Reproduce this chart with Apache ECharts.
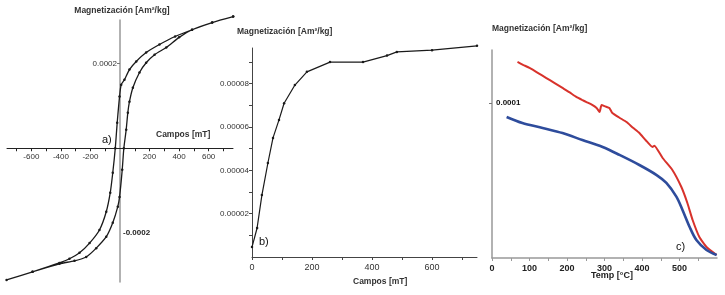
<!DOCTYPE html>
<html>
<head>
<meta charset="utf-8">
<script src="https://cdn.jsdelivr.net/npm/echarts@6/dist/echarts.min.js"></script>
<style>
  html, body { margin: 0; padding: 0; background: #fff; }
  #chart { width: 725px; height: 295px; }
</style>
</head>
<body>
<div id="chart"></div>
<script>
// a) hysteresis loop: descending branch then ascending branch
const loopField = [766, 624, 488, 373, 267, 177, 110, 64, 30, 8, -3, -19, -32, -49, -66, -93, -139, -206, -274, -342, -410, -592, -768,
                   -592, -410, -308, -229, -161, -93, -49, -15, -3, 15, 26, 42, 53, 64, 87, 132, 177, 234, 313, 400, 488, 624, 766];
const loopMag = [3.11e-4, 2.97e-4, 2.80e-4, 2.64e-4, 2.45e-4, 2.26e-4, 2.05e-4, 1.86e-4, 1.62e-4, 1.50e-4, 1.22e-4, 0.60e-4, 0, -0.58e-4, -1.05e-4, -1.50e-4, -1.93e-4, -2.24e-4, -2.47e-4, -2.61e-4, -2.71e-4, -2.92e-4, -3.11e-4,
                 -2.92e-4, -2.73e-4, -2.66e-4, -2.57e-4, -2.36e-4, -2.09e-4, -1.76e-4, -1.38e-4, -1.15e-4, -0.51e-4, 0, 0.44e-4, 0.84e-4, 1.10e-4, 1.43e-4, 1.79e-4, 2.02e-4, 2.21e-4, 2.38e-4, 2.62e-4, 2.80e-4, 2.97e-4, 3.11e-4];
const loopFieldLabels = [-600, -400, -200, 200, 400, 600];
const loopFieldTicks = [-700, -600, -500, -400, -300, -200, -100, 100, 200, 300, 400, 500, 600, 700];
const loopMagLabelsLeft = [0.0002];
const loopMagLabelsRight = [-0.0002];

// b) acquisition curve
const irmField = [0, 17, 33, 53, 70, 90, 107, 143, 183, 260, 370, 450, 483, 600, 750];
const irmMag = [4.6e-6, 1.34e-5, 2.86e-5, 4.34e-5, 5.5e-5, 6.33e-5, 7.1e-5, 7.94e-5, 8.55e-5, 9.0e-5, 9.0e-5, 9.3e-5, 9.47e-5, 9.55e-5, 9.75e-5];
const irmFieldLabels = [0, 200, 400, 600];
const irmFieldTicks = [0, 100, 200, 300, 400, 500, 600, 700];
const irmMagLabels = [0.00002, 0.00004, 0.00006, 0.00008];
const irmMagTicks = [0.00001, 0.00002, 0.00003, 0.00004, 0.00005, 0.00006, 0.00007, 0.00008, 0.00009];

// c) thermomagnetic curves
const redTemp = [68, 84, 100, 122, 145, 166, 188, 206, 225, 240, 252, 266, 279, 287, 292, 302, 313, 321, 340, 359, 376, 393, 410, 428, 433, 455, 481, 505, 521, 535, 553, 572, 599];
const redMag = [1.265e-4, 1.245e-4, 1.226e-4, 1.195e-4, 1.161e-4, 1.13e-4, 1.097e-4, 1.07e-4, 1.039e-4, 1.02e-4, 1.006e-4, 0.99e-4, 0.968e-4, 0.942e-4, 0.987e-4, 0.978e-4, 0.968e-4, 0.935e-4, 0.905e-4, 0.877e-4, 0.84e-4, 0.806e-4, 0.76e-4, 0.716e-4, 0.725e-4, 0.645e-4, 0.568e-4, 0.458e-4, 0.355e-4, 0.245e-4, 0.135e-4, 0.071e-4, 0.019e-4];
const blueTemp = [39, 81, 135, 188, 241, 295, 340, 393, 439, 465, 492, 508, 527, 545, 572, 599];
const blueMag = [0.91e-4, 0.871e-4, 0.839e-4, 0.806e-4, 0.761e-4, 0.716e-4, 0.665e-4, 0.6e-4, 0.535e-4, 0.484e-4, 0.394e-4, 0.31e-4, 0.2e-4, 0.116e-4, 0.052e-4, 0.019e-4];
const tempLabels = [0, 100, 200, 300, 400, 500];
const tempTicks = [0, 50, 100, 150, 200, 250, 300, 350, 400, 450, 500, 550];
const thermoMagLabels = [0.0001];

const pairs = (xs, ys) => xs.map((x, i) => [x, ys[i]]);

const FONT = 'Liberation Sans';
const labelStyle = { fontFamily: FONT, fontSize: 8, color: '#333' };
const titleStyle = { fontFamily: FONT, fontSize: 8.5, fontWeight: 'bold', color: '#333' };

const chart = echarts.init(document.getElementById('chart'), null, { renderer: 'canvas' });

// panel a: axes cross at zero, placed with offsets from the grid edges
const gridA = { left: 7, top: 20, width: 226, height: 262 };
const aMin = -765, aMax = 765, aMagMin = -0.000316, aMagMax = 0.000303;
const zeroX = gridA.width * (0 - aMin) / (aMax - aMin);          // from grid left
const zeroY = gridA.height * (aMagMax - 0) / (aMagMax - aMagMin); // from grid top

const option = {
  animation: false,
  backgroundColor: '#fff',
  title: [
    { text: 'Magnetización [Am²/kg]', left: 122, top: 6, padding: 0, textAlign: 'center', textStyle: titleStyle },
    { text: 'Magnetización [Am²/kg]', left: 237, top: 27, padding: 0, textStyle: titleStyle },
    { text: 'Magnetización [Am²/kg]', left: 492, top: 24, padding: 0, textStyle: titleStyle }
  ],
  grid: [
    { ...gridA, outerBoundsMode: 'none', containLabel: false },
    { left: 252, top: 48, width: 225, height: 209, outerBoundsMode: 'none', containLabel: false },
    { left: 492, top: 50, width: 225, height: 208, outerBoundsMode: 'none', containLabel: false }
  ],
  xAxis: [
    {
      gridIndex: 0, type: 'value', min: aMin, max: aMax, position: 'bottom',
      offset: -(gridA.height - zeroY),
      axisLine: { onZero: false, lineStyle: { color: '#222', width: 1 } },
      axisTick: { show: true, length: 3, customValues: loopFieldTicks, lineStyle: { color: '#222' } },
      axisLabel: { ...labelStyle, margin: 5, customValues: loopFieldLabels, formatter: v => String(v) },
      splitLine: { show: false }
    },
    {
      gridIndex: 1, type: 'value', min: 0, max: 750,
      axisLine: { onZero: false, lineStyle: { color: '#444', width: 1 } },
      axisTick: { length: 3, customValues: irmFieldTicks, lineStyle: { color: '#444' } },
      axisLabel: { ...labelStyle, fontSize: 9, margin: 6, customValues: irmFieldLabels, formatter: v => String(v) },
      splitLine: { show: false }
    },
    {
      gridIndex: 2, type: 'value', min: 0, max: 600,
      axisLine: { onZero: false, lineStyle: { color: '#999', width: 1.5 } },
      axisTick: { length: 3, customValues: tempTicks, lineStyle: { color: '#999' } },
      axisLabel: { ...labelStyle, fontSize: 9, fontWeight: 'bold', color: '#222', margin: 6, customValues: tempLabels, formatter: v => String(v) },
      splitLine: { show: false }
    }
  ],
  yAxis: [
    {
      gridIndex: 0, type: 'value', min: aMagMin, max: aMagMax, position: 'left',
      offset: -zeroX,
      axisLine: { onZero: false, lineStyle: { color: '#999', width: 1.5 } },
      axisTick: { length: 3, customValues: loopMagLabelsLeft, lineStyle: { color: '#777' } },
      axisLabel: { ...labelStyle, margin: 3, customValues: loopMagLabelsLeft, formatter: () => '0.0002' },
      splitLine: { show: false }
    },
    {
      gridIndex: 0, type: 'value', min: aMagMin, max: aMagMax, position: 'right',
      offset: -(gridA.width - zeroX),
      axisLine: { show: false, onZero: false },
      axisTick: { show: false },
      axisLabel: { ...labelStyle, fontWeight: 'bold', color: '#222', margin: 3, customValues: loopMagLabelsRight, formatter: () => '-0.0002' },
      splitLine: { show: false }
    },
    {
      gridIndex: 1, type: 'value', min: 0, max: 0.0000965,
      axisLine: { show: true, onZero: false, lineStyle: { color: '#444', width: 1 } },
      axisTick: { show: true, length: 3, customValues: irmMagTicks, lineStyle: { color: '#444' } },
      axisLabel: { ...labelStyle, margin: 3, customValues: irmMagLabels, formatter: v => v.toFixed(5) },
      splitLine: { show: false }
    },
    {
      gridIndex: 2, type: 'value', min: 0, max: 0.0001342,
      axisLine: { show: true, onZero: false, lineStyle: { color: '#999', width: 1.5 } },
      axisTick: { show: true, length: 3, customValues: thermoMagLabels, lineStyle: { color: '#777' } },
      axisLabel: { ...labelStyle, fontWeight: 'bold', color: '#111', inside: true, margin: 4, customValues: thermoMagLabels, formatter: () => '0.0001' },
      splitLine: { show: false }
    }
  ],
  series: [
    {
      type: 'line', xAxisIndex: 0, yAxisIndex: 0, data: pairs(loopField, loopMag),
      smooth: 0.25, symbol: 'circle', symbolSize: 2.5, clip: false,
      lineStyle: { color: '#1a1a1a', width: 1.3 }, itemStyle: { color: '#1a1a1a' }
    },
    {
      type: 'line', xAxisIndex: 1, yAxisIndex: 2, data: pairs(irmField, irmMag),
      smooth: false, symbol: 'circle', symbolSize: 2.5, clip: false,
      lineStyle: { color: '#1a1a1a', width: 1.2 }, itemStyle: { color: '#1a1a1a' }
    },
    {
      type: 'line', xAxisIndex: 2, yAxisIndex: 3, data: pairs(redTemp, redMag),
      smooth: 0.15, showSymbol: false, clip: false,
      lineStyle: { color: '#d8322b', width: 2 }
    },
    {
      type: 'line', xAxisIndex: 2, yAxisIndex: 3, data: pairs(blueTemp, blueMag),
      smooth: 0.3, showSymbol: false, clip: false,
      lineStyle: { color: '#2e4c9c', width: 2.6 }
    }
  ],
  graphic: [
    { type: 'text', left: 156, top: 130, style: { text: 'Campos [mT]', fontFamily: FONT, fontSize: 8.5, fontWeight: 'bold', fill: '#333' } },
    { type: 'text', left: 102, top: 134, style: { text: 'a)', fontFamily: FONT, fontSize: 11, fill: '#111' } },
    { type: 'text', left: 353, top: 277, style: { text: 'Campos [mT]', fontFamily: FONT, fontSize: 8.5, fontWeight: 'bold', fill: '#333' } },
    { type: 'text', left: 259, top: 236, style: { text: 'b)', fontFamily: FONT, fontSize: 11, fill: '#111' } },
    { type: 'text', left: 591, top: 271, style: { text: 'Temp [°C]', fontFamily: FONT, fontSize: 9, fontWeight: 'bold', fill: '#222' } },
    { type: 'text', left: 676, top: 241, style: { text: 'c)', fontFamily: FONT, fontSize: 11, fill: '#111' } }
  ]
};

chart.setOption(option);
</script>
</body>
</html>
